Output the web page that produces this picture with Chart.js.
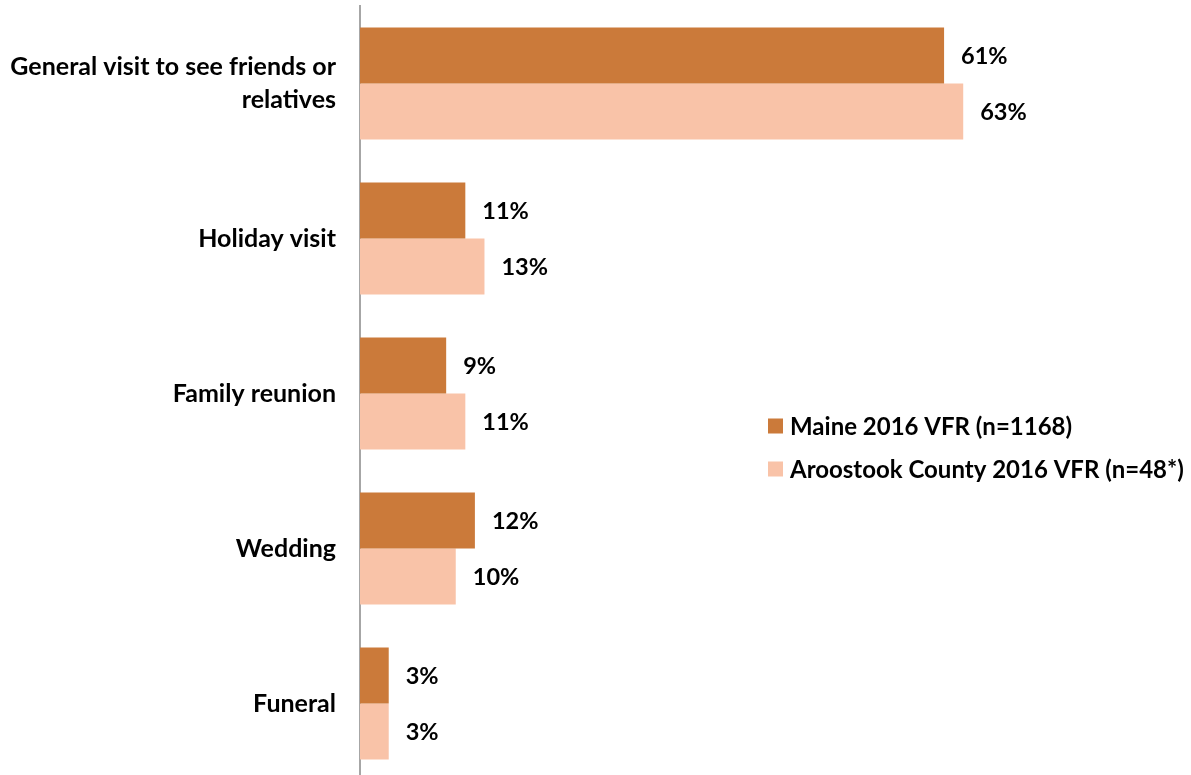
<!DOCTYPE html>
<html>
<head>
<meta charset="utf-8">
<script src="https://cdn.jsdelivr.net/npm/chart.js@4/dist/chart.umd.min.js"></script>
<style>
  html, body { margin: 0; padding: 0; background: #fff; overflow: hidden; }
  #wrap { position: relative; width: 1191px; height: 781px; }
</style>
</head>
<body>
<div id="wrap"><canvas id="c"></canvas></div>
<script>
// Reasons for visiting friends or relatives (share of respondents, %)
const categories = [
  ['General visit to see friends or', 'relatives'],
  'Holiday visit',
  'Family reunion',
  'Wedding',
  'Funeral'
];
const seriesNames = ['Maine 2016 VFR (n=1168)', 'Aroostook County 2016 VFR (n=48*)'];
const maineValues = [61, 11, 9, 12, 3];
const aroostookValues = [63, 13, 11, 10, 3];
const seriesColors = ['#CB7A3A', '#F9C3A8'];

const FONT = 'Lato, "Open Sans", sans-serif';
const LABEL_SIZE = 25;
const VALUE_SIZE = 23.5;
const LEGEND_SIZE = 24;

// Value labels drawn just past the end of each bar
const valueLabels = {
  id: 'valueLabels',
  afterDatasetsDraw(chart) {
    const ctx = chart.ctx;
    ctx.save();
    ctx.font = `bold ${VALUE_SIZE}px ${FONT}`;
    ctx.fillStyle = '#000';
    ctx.textAlign = 'left';
    ctx.textBaseline = 'middle';
    chart.data.datasets.forEach((ds, i) => {
      chart.getDatasetMeta(i).data.forEach((bar, j) => {
        ctx.fillText(ds.data[j] + '%', bar.x + 17, bar.y + 1);
      });
    });
    ctx.restore();
  }
};

// Legend with square swatches, placed in the lower right of the plot
const sideLegend = {
  id: 'sideLegend',
  afterDraw(chart) {
    const ctx = chart.ctx;
    ctx.save();
    ctx.font = `bold ${LEGEND_SIZE}px ${FONT}`;
    ctx.textAlign = 'left';
    ctx.textBaseline = 'middle';
    const x = 768, y0 = 426, step = 43, box = 15;
    chart.data.datasets.forEach((ds, i) => {
      const y = y0 + i * step;
      ctx.fillStyle = ds.backgroundColor;
      ctx.fillRect(x, y - box / 2, box, box);
      ctx.fillStyle = '#000';
      ctx.fillText(ds.label, x + 22, y + 1);
    });
    ctx.restore();
  }
};

new Chart(document.getElementById('c'), {
  type: 'bar',
  data: {
    labels: categories,
    datasets: [
      { label: seriesNames[0], data: maineValues, backgroundColor: seriesColors[0] },
      { label: seriesNames[1], data: aroostookValues, backgroundColor: seriesColors[1] }
    ]
  },
  options: {
    indexAxis: 'y',
    responsive: true,
    maintainAspectRatio: false,
    animation: false,
    layout: { padding: { top: 6, right: 65, bottom: 0, left: 0 } },
    datasets: { bar: { barPercentage: 1, categoryPercentage: 0.723 } },
    scales: {
      x: { display: false, min: 0, max: 80 },
      y: {
        afterFit(scale) {
          scale.width = 360;
          scale.paddingTop = 0;
          scale.paddingBottom = 0;
        },
        grid: { display: false, drawTicks: false },
        border: { display: true, color: '#A6A6A6', width: 2 },
        ticks: {
          padding: 24,
          color: '#000',
          font: { family: FONT, size: LABEL_SIZE, weight: 'bold', lineHeight: 1.32 }
        }
      }
    },
    plugins: {
      legend: { display: false },
      tooltip: { enabled: false }
    }
  },
  plugins: [valueLabels, sideLegend]
});
</script>
</body>
</html>
